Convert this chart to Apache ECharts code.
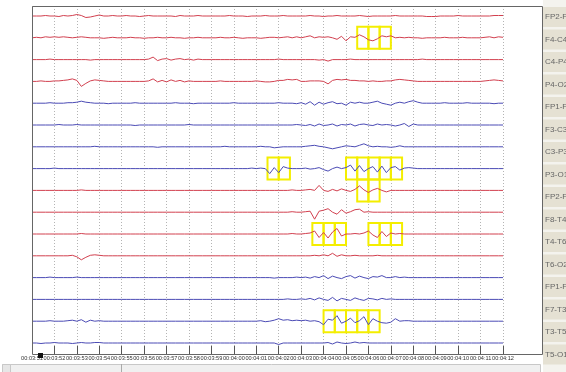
<!DOCTYPE html>
<html>
<head>
<meta charset="utf-8">
<script src="https://cdn.jsdelivr.net/npm/echarts@6/dist/echarts.min.js"></script>
<style>
  html, body { margin: 0; padding: 0; background: #fff; }
  #chart { width: 566px; height: 372px; }
</style>
</head>
<body>
<div id="chart"></div>
<script>
// time axis: one label per second, samples every 0.2 s
const timeLabels = ['00:03:51', '00:03:52', '00:03:53', '00:03:54', '00:03:55', '00:03:56', '00:03:57',
  '00:03:58', '00:03:59', '00:04:00', '00:04:01', '00:04:02', '00:04:03', '00:04:04', '00:04:05',
  '00:04:06', '00:04:07', '00:04:08', '00:04:09', '00:04:10', '00:04:11', '00:04:12']
const startSec = 231
const sampleStep = 0.2

const channels = ['FP2-F4', 'F4-C4', 'C4-P4', 'P4-O2', 'FP1-F3', 'F3-C3', 'C3-P3', 'P3-O1',
  'FP2-F8', 'F8-T4', 'T4-T6', 'T6-O2', 'FP1-F7', 'F7-T3', 'T3-T5', 'T5-O1']

// amplitudes (display units, positive = up)
const fp2f4 = [0, 0, 0, 0.5, 0, 0, -0.5, 0.5, 0, 0.5,
  1.5, 0.5, -1.5, -1, 0, 1, 0, 0, 0.5, 0,
  0, 0.5, 0, 0, -0.5, 0, 0.5, 0, 0, 0,
  0, 0, -0.5, 0.5, 0, 0, 0, 0.5, 0, 0,
  0, 0, 0, 0, 0.5, 0, 0, 0, -0.5, 0,
  0, 0, 0.5, 0, 0, 0, 0.5, 0, 0, 0,
  0, 0, 0.5, 0, 0, -0.5, 0, 0, 0.5, 0,
  0, 0, 0, 0.5, 0, -0.5, 0, 0, 0, 0,
  0, 0.5, 0, 0, 0, 0, 0, 0, -0.5, -0.5,
  -0.5, 0, 0, 0, 0, 0.5, 0, 0, 0, 0,
  0, 0, 0, 0.5, 0.5, 0.5]
const f4c4 = [0, 0.5, 0, 1, 0.5, 1, 0.5, 1, 0.5, 0,
  0.5, 1, 0.5, 0, 0, 0, -0.5, 0, 0.5, 0,
  0, 0, 0.5, 0, 0, -0.5, 0, 0, 0.5, 0,
  0, 0.5, 0, 0, -0.5, 0, 0, 0.5, 0, 0,
  0, 0, 0.5, 0, 0, 0.5, 0, -0.5, 0, 0,
  0, -0.5, 0, 0.5, 0.5, 0, 0.5, 1, 0, 1,
  0, 1, 2, 0, 1, 0.5, 1, 0, -1.5, 1.5,
  -3, 1, 0.5, 3, 1, -2, -3, -1, 2, 1,
  2, 0, 0.5, 0, 0.5, 0, 0, -0.5, 0, 0,
  0, 0, 0.5, 0, 0, 0, 0.5, 0, 0, 0,
  0, 0.5, 1, 0, 1, 0.5]
const c4p4 = [0, 0, 0, 0, 0.5, 0, 0, 0, 0, 0,
  0, 0, 0, -0.5, 0, 0, 0, 0, 0, 0,
  0, 0, 0, 0, 0, 0, 0.5, 2.5, -1, 0.5,
  1, -0.5, 0.5, 1, 0, 0.5, -0.5, 0.5, 0, 0,
  0, 0, 0, 0, 0, 0, 0, 0, 0, 0,
  0, 0, 0, 0, 0, 0.5, 0, 0, 0, 0,
  0, 0, 0, 0, -0.5, 0, -1.5, 0, 0, 0,
  0, 0.5, 0, 0, 0, 0, 0, 0, 0, 0,
  0, 0, 0, 0, 0, 0, 0, 0.5, 0, 0,
  0, 0, 0, 0, 0, 0, 0, 0, 0, 0,
  0, 0, 0, 0, 0, 0]
const p4o2 = [0, 0, 0.5, 0, 0, 0.5, 0.5, 1, 1.5, 2.5,
  1, -5, -2, 0.5, 1.5, 1, 0.5, 0, 0, 0,
  0, 0, 0, 0, 0, 0, 0.5, 2.5, -0.5, 1,
  -0.5, 1.5, 0, 1, -0.5, 0.5, 0, 0, 0, 0,
  0, 0, 0.5, 0, 0, 0, 0, 0, 0, 0,
  0.5, 0, -0.5, -0.5, 0, 1, 1, 2, 1.5, 2,
  0, 0, 0.5, 0.5, 0.5, 0, -2.5, 1, 2, 1.5,
  2, 1, 1, 0.5, 0.5, 0, 0.5, 0, 0, 0.5,
  0.5, 1.5, 2, 1.5, 1, 0.5, 0, 0, 0, 0,
  0, 0, 0, 0, 0, 0, 0, 0, 0, 0,
  0, 0.5, 1, 1.5, 1, 0.5]
const fp1f3 = [0, 0, 0, 0, 0.5, 0, 0, 0, 0.5, 0.5,
  1, 2, 1, 0.5, 0, 0, 0, -0.5, 0, 0,
  0, 0, 0, 0.5, 0, 0, 0, 0, 0, 0,
  0, 0, 0.5, 0, 0, 0, -0.5, 0, 0, 0,
  0, 0, 0, 0, 0, 0.5, 0, 0, 0, 0,
  0, 0, 0, 0, 0, 0.5, 0, 0, 0, -0.5,
  0.5, -1, 1.5, -2, 1, -1, 0.5, 1.5, -0.5, 0,
  -2, 1, 0, 1, 0, 0, 1, 2, 0, -1,
  -2, 0, 1, 0, 1.5, 2.5, 1, 0, 0, 0,
  0, 0, 0.5, 0, 0, 0, 0, 0.5, 0, 0,
  0, 0, 0, -0.5, 0, 0]
const f3c3 = [0, 0, 0, 0, 0, 0, 0.5, 0, 0, 0,
  0.5, 0, 0, 0, 0, 0, 0, 0, 0, 0,
  0, 0, 0, -0.5, 0, 0, 0, 0, 0, 0,
  0, 0, 0, 0, 0, 0.5, 0, 0, 0, 0,
  0, 0, 0, 0, 0, 0, 0, 0, 0, 0,
  0, 0, 0, 0, 0, 0, 0, 0, 0, 0.5,
  0, -0.5, 0.5, -1, 1, -0.5, 0, 1, -1, 0.5,
  0, 1, -1, 0.5, 1, 0, -0.5, 1, 0, 0.5,
  0, -1, 0, 1.5, -1.5, 1, 0, 0, 0, 0,
  0, 0, 0, 0, 0, 0, 0, 0, 0, 0,
  0, 0, 0, 0, 0, 0]
const c3p3 = [0, 0, 0, 0, 0, 0, 0, 0, 0, 0,
  0, 0, 0, 0, 0.5, 0, 0, 0, 0, 0,
  0, 0, 0, 0, 0, 0, 0, 0, -0.5, 0,
  0, 0, 0, 0, 0, 0, 0, 0, 0, 0,
  0, 0, 0, 0.5, 0, 0, 0, 0, 0, 0,
  0, 0.5, 0, 0, -1, -0.5, 0, 0, 0, 0,
  0, 0.5, 1, 1.5, 0.5, 0, -1, -2, -1, 0,
  1, 0.5, 0, 1.5, 3, 1, 0, 0.5, 0, 0,
  -0.5, 0, 1, 0, 0, 0, 0, 0, 0, 0,
  0, 0, 0, 0, 0, 0, 0, 0, 0, 0,
  0, 0, 0, 0, 0, 0]
const p3o1 = [0, 0, 0, 0, 0, 0.5, 0, 0, 0, 0,
  0, 0, 0, 0, 0, 0, 0, 0, 0, 0,
  0, 0, 0, 0, 0, 0, 0, 0, 0, 0,
  0, 0, 0, 0, 0, 0, 0, 0, 0, 0,
  0, 0, 0, 0, 0, 0, 0, 0, 0, 0.5,
  0, 0.5, 0, -5, 1, -4, 2, 0.5, 0, 0,
  0, 0.5, -0.5, 0, 1, -1, -2.5, 0, 1.5, 0,
  1, 3.5, -2.5, 3, -3, 0, 2, -3.5, 2.5, -4,
  1, 2, -1.5, 0.5, 1, 0.5, 0, 0, 0, 0,
  0, 0, 0, 0, 0, 0, 0, 0, 0, 0,
  0, 0, 0, 0, 0, 0]
const fp2f8 = [0, 0, 0, 0, 0, 0, 0, 0, 0, 0,
  0, 0.5, 0, 0, 0, 0, 0, 0, 0, 0,
  0, 0, 0, 0, 0, 0, 0, 0, 0, 0,
  0, 0, 0, 0, 0, 0, 0, 0, 0, 0,
  0, 0, 0, 0, 0, 0, 0, 0, 0, 0,
  0, 0, 0, 0, 0, 0, 0, 0, 0.5, 0,
  0, 0.5, 1, 0, 5, 0, -1, 1, -0.5, 1.5,
  0, -1, 1, 4.5, 0.5, -2, 0.5, 2, 0, -1.5,
  0, 0, 0, 0, 0, 0, 0, 0, 0, 0,
  0, 0, 0, 0, 0, 0, 0, 0, 0, 0,
  0, 0, 0, 0, 0, 0]
const f8t4 = [0, 0, 0, 0, 0, 0, 0, 0, 0, 0,
  0, 0, 0, 0, 0, 0, 0, 0, 0, 0,
  0, 0, 0, 0, 0, 0, 0, 0, 0, 0,
  0, 0, 0, 0, 0, 0, 0, 0, 0, 0,
  0, 0, 0, 0, 0, 0, 0, 0, 0, 0,
  0, 0, 0, 0, 0, 0, 0, 0, 0.5, 0,
  0, 0.5, 1, -7, 1, 2, 3.5, 0, -2, 2.5,
  -1, 0.5, 2.5, 3, 0, 0.5, 0, 0, 0, 0,
  0, 0, 0, 0, 0, 0, 0, 0, 0, 0,
  0, 0, 0, 0, 0, 0, 0, 0, 0, 0,
  0, 0, 0, 0, 0, 0]
const t4t6 = [0, 0, 0, 0, 0, 0, 0, 0, 0, 0,
  0, 0.5, 0, 0, 0, 0, 0, 0, 0, 0,
  0, 0, 0, 0, 0, 0, 0, 0, 0, 0,
  0, 0, 0, 0, 0, 0, 0, 0, 0, 0,
  0, 0, 0, 0, 0, 0, 0, 0, 0, 0,
  0, 0, 0, 0, 0, 0, 0, 0, 0.5, 0,
  0, 0.5, 1, 3, -3.5, 1.5, -4, 2, 5.5, -2,
  0, 0, 0.5, 0, 1, 3, -1, -3.5, 2.5, -2.5,
  1, 0, 0.5, 0, 0, 0, 0, 0, 0, 0,
  0, 0, 0, 0, 0, 0, 0, 0, 0, 0,
  0, 0, 0, 0, 0, 0]
const t6o2 = [0, 0, 0, 0, 0, 0, 0, 0, 0, 0.5,
  -1, -4, -1.5, 0.5, 1, 0.5, 0, 0, 0, 0,
  0, 0, 0, 0, 0, 0, 0, 0, 0, 0,
  0, 0, 0, 0, 0, 0, 0, 0, 0, 0,
  0, 0, 0, 0, 0, 0, 0, 0, 0, 0,
  0, 0, 0, 0, 0, 0, 0, 0, 0, 0,
  0, 0, 0, 0.5, 0, 1, 0, 2.5, -0.5, 1,
  0, 0, 0.5, 0, 0, 0, 0, 0.5, 0, 0,
  0, 0, 0, 0, 0, 0, 0, 0, 0, 0,
  0, 0, 0, 0, 0, 0, 0, 0, 0, 0,
  0, 0, 0, 0, 0, 0]
const fp1f7 = [0, 0, 0, 0, 0.5, 0, 0, 0, 0, 0,
  0.5, 0, 0, 0, 0, 0, 0, 0, 0, 0,
  0, 0, 0, 0, 0, 0, 0, 0, 0, 0,
  0, 0, 0, 0, 0, 0, 0, 0, 0, 0,
  0, 0, 0, 0, 0, 0, 0, 0, 0, 0,
  0, 0, 0, 0, -0.5, 0, 0, 0, 0, 0.5,
  0, 0.5, -0.5, 1, 0, 2, -1, 1.5, 0, -1,
  1, 2, -0.5, 1.5, 0, -1, 1, 0.5, 2, 0,
  0, 1, 0, 0.5, 0, 0, 0, 0, 0, 0,
  0, 0, 0, 0, 0, 0, 0, 0, 0, 0,
  0, 0, 0, 0, 0, 0]
const f7t3 = [0, 0, 0, 0, 0, 0, 0, 0, 0, 0,
  0, 0, 0, 0, 0, 0, 0, 0, 0, 0,
  0, 0, 0, 0, 0, 0, 0, 0, 0, 0,
  0, 0, 0, 0, 0, 0, 0, 0, 0, 0,
  0, 0, 0, 0, 0, 0, 0, 0, 0, 0,
  0, 0, 0, 0, 0, 0, 0, 0.5, 0, 0,
  0.5, 0, 1, -0.5, 1.5, 0, -1, 2, -1.5, 1,
  0, -1, 1.5, 0, -1, 1, 0.5, -0.5, 1, 0,
  0.5, 0, 0, 0, 0, 0, 0, 0, 0, 0,
  0, 0, 0, 0, 0, 0, 0, 0, 0, 0,
  0, 0, 0, 0, 0, 0]
const t3t5 = [0, 0, 0, 0, 0.5, 0, 0, 0, 0.5, 1,
  0, 1.5, -1, 1, 0, 0.5, 0, 0, 0, 0,
  0, 0, 0, 0, 0, 0, 0, 0, 0, 0,
  0, 0, 0, 0, 0, 0, 0, 0, 0, 0,
  0, 0, 0, 0, 0, 0, 0, 0, 0, 0,
  0, 0.5, -0.5, 0, 1, 2.5, 1, 1.5, 0.5, 1,
  0.5, 1, 0, 0.5, -0.5, -3.5, 2, 1, 5.5, -2,
  0, 3, -1.5, 0.5, 4.5, -3.5, 2.5, 0, -1.5, -2,
  -1, 2.5, 0, 0.5, 0.5, 0, 0, 0, 0, 0,
  0, 0, 0, 0, 0, 0, 0, 0, 0, 0,
  0, 0, 0, 0, 0, 0]
const t5o1 = [0, 0, -0.5, 0, 0, 0.5, 0, 0, 0, -0.5,
  0, 0.5, 0, 0, 0.5, 0.5, 0, 0, 0, 0,
  0, 0, 0, 0, 0, 0, 0, 0, 0, 0,
  0, 0, 0, 0, 0, 0, 0, 0, 0, 0,
  0, 0, 0, 0, 0, 0, 0, 0, 0, 0,
  0, 0, 0, 0, 0, -1.5, 0, 0, 0, 0,
  0, 0, 0, 0, 0, 0, 0.5, -1, 1, 0,
  -0.5, 0, 1, 0, 0.5, 0, 0, 0, 0, 0,
  0, 0, 0, 0, 0, 0, 0, 0, 0, 0,
  0, 0, 0, 0, 0, 0, 0, 0, 0, 0,
  0, 0, 0, 0, 0, 0]

const traces = [fp2f4, f4c4, c4p4, p4o2, fp1f3, f3c3, c3p3, p3o1,
  fp2f8, f8t4, t4t6, t6o2, fp1f7, f7t3, t3t5, t5o1]

// marked spikes: [channel index, start second], each box lasts half a second
const spikeBoxes = [
  [1, 245.5], [1, 246], [1, 246.5],
  [7, 241.5], [7, 242], [7, 245], [7, 245.5], [7, 246], [7, 246.5], [7, 247],
  [8, 245.5], [8, 246],
  [10, 243.5], [10, 244], [10, 244.5], [10, 246], [10, 246.5], [10, 247],
  [14, 244], [14, 244.5], [14, 245], [14, 245.5], [14, 246]
]

const chart = echarts.init(document.getElementById('chart'))

const gap = 21.8
const baseOf = i => 10 + i * gap

const series = traces.map((arr, i) => {
  const base = baseOf(i)
  const boxes = spikeBoxes.filter(b => b[0] === i).map(b => [
    { xAxis: b[1], yAxis: base - 11 },
    { xAxis: b[1] + 0.5, yAxis: base + 11 }
  ])
  return {
    name: channels[i],
    type: 'line',
    symbol: 'none',
    silent: true,
    animation: false,
    lineStyle: { width: 1, color: Math.floor(i / 4) % 2 ? '#4b4bb5' : '#d2404f' },
    data: arr.map((v, k) => [startSec + k * sampleStep, base - v]),
    markArea: boxes.length ? {
      silent: true,
      itemStyle: { color: 'rgba(0,0,0,0)', borderColor: '#f4ee00', borderWidth: 2 },
      data: boxes
    } : undefined
  }
})

const panel = [{
  type: 'rect', shape: { x: 543, y: 0, width: 23, height: 372 },
  style: { fill: '#f4f3ee' }
}]
channels.forEach((name, i) => {
  panel.push({
    type: 'rect', shape: { x: 543, y: 7 + i * 22.5, width: 25, height: 20 },
    style: { fill: '#e5e1d3' }
  })
  panel.push({
    type: 'text', x: 545, y: 17 + i * 22.5,
    style: { text: name, fill: '#666', font: '8px "Liberation Sans"', verticalAlign: 'middle' }
  })
})

chart.setOption({
  backgroundColor: '#fff',
  grid: { left: 32, right: 63, top: 6, bottom: 18 },
  xAxis: {
    type: 'value',
    position: 'bottom',
    min: 231,
    max: 252,
    interval: 1,
    axisLine: { show: false, onZero: false },
    axisTick: { inside: true, length: 8, lineStyle: { color: '#555' } },
    axisLabel: {
      margin: 1,
      fontSize: 5.6,
      fontFamily: 'Liberation Sans',
      color: '#333',
      formatter: v => timeLabels[Math.round(v - startSec)]
    },
    splitLine: { show: true, lineStyle: { color: '#b4b4b4', type: [1, 2] } }
  },
  yAxis: { type: 'value', min: 0, max: 348, inverse: true, show: false },
  series: series,
  graphic: panel.concat([
    {
      type: 'rect', shape: { x: 32.5, y: 6.5, width: 510, height: 348 },
      style: { fill: 'none', stroke: '#666', lineWidth: 1 }, z: 10
    },
    { type: 'rect', shape: { x: 38, y: 353, width: 5, height: 5 }, style: { fill: '#111' }, z: 10 },
    {
      type: 'rect', shape: { x: 2.5, y: 364.5, width: 538, height: 8 },
      style: { fill: '#f0f0f0', stroke: '#c8c8c8', lineWidth: 1 }
    },
    { type: 'rect', shape: { x: 2.5, y: 364.5, width: 8, height: 8 }, style: { fill: '#e6e6e6', stroke: '#c8c8c8' } },
    { type: 'line', shape: { x1: 121.5, y1: 364, x2: 121.5, y2: 372 }, style: { stroke: '#aaa', lineWidth: 1 } }
  ])
})
</script>
</body>
</html>
